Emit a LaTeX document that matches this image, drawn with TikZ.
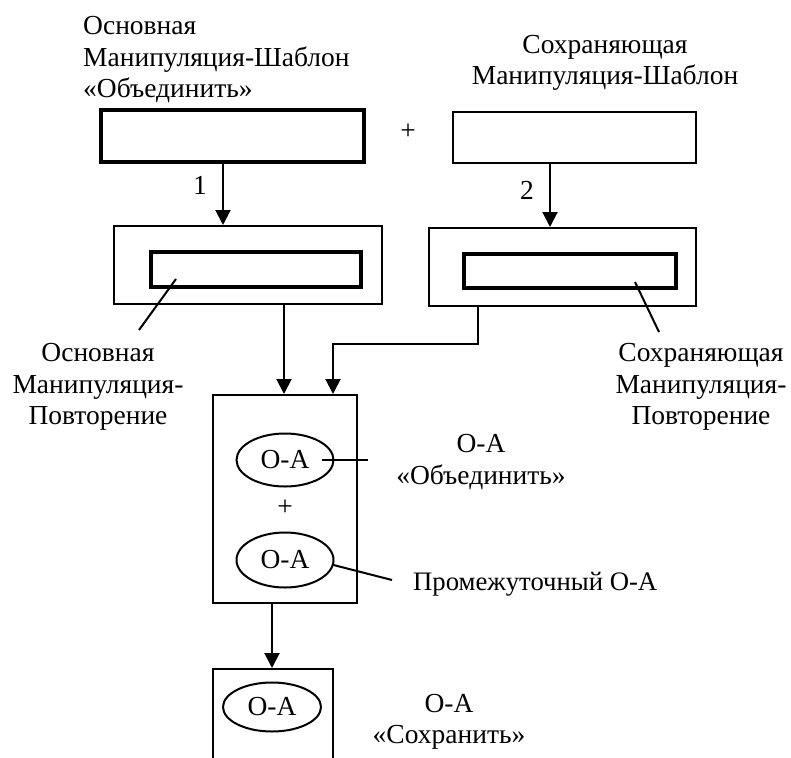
\documentclass[tikz,border=0pt]{standalone}
\usepackage{fontspec}
\setmainfont{Liberation Serif}
\usetikzlibrary{arrows.meta,shapes.geometric}
\begin{document}
\begin{tikzpicture}[x=1pt,y=-1pt,
  every node/.style={font=\fontsize{27.5}{31.5}\selectfont, inner sep=0pt},
  thin box/.style={draw, line width=2pt, minimum width=#1},
  thick box/.style={draw, line width=3.1pt, minimum width=#1},
  oval/.style={draw, ellipse, line width=2pt, minimum width=97pt, minimum height=53pt},
  lbl/.style={align=center},
  con/.style={line width=2pt},
  arr/.style={line width=2pt, -{Triangle[length=15pt,width=15pt]}}]
\clip (0,0) rectangle (791,757);
\fill[white] (0,0) rectangle (791,757);
% top boxes
\node[thick box=263pt, minimum height=52pt] (TL) at (232.5,136) {};
\node[thin box=243pt, minimum height=51pt] (TR) at (574.5,137.5) {};
\node (plus1) at (408,132) {+};
\node[anchor=west, align=left] (TLt) at (83,60) {Основная\\Манипуляция-Шаблон\\«Объединить»};
\node[lbl] (TRt) at (605,63) {Сохраняющая\\Манипуляция-Шаблон};
% middle boxes
\node[thin box=268pt, minimum height=78pt] (ML) at (248,265) {};
\node[thick box=210pt, minimum height=35pt] (MLi) at (256,269.5) {};
\node[thin box=267pt, minimum height=78pt] (MR) at (562.5,267) {};
\node[thick box=212pt, minimum height=34pt] (MRi) at (570,271) {};
\draw[arr] ([xshift=-9.5pt]TL.south) -- ([xshift=-9.5pt]TL.south |- ML.north);
\draw[arr] ([xshift=-24.5pt]TR.south) -- ([xshift=-24.5pt]TR.south |- MR.north);
\node (n1) at (200,185) {1};
\node (n2) at (527,190) {2};
% labels of middle boxes
\node[lbl] (MLt) at (98,387) {Основная\\Манипуляция-\\Повторение};
\node[lbl] (MRt) at (701,387) {Сохраняющая\\Манипуляция-\\Повторение};
\coordinate (MLa) at (176,279);
\coordinate (MLb) at (139,330);
\coordinate (MRa) at (635,282);
\coordinate (MRb) at (659,332);
\draw[con] (MLa) -- (MLb);
\draw[con] (MRa) -- (MRb);
% O-A box
\node[thin box=144pt, minimum height=208pt] (OA) at (285,499) {};
\node[oval] (E1) at (285,460) {О-А};
\node (plus2) at (285,508) {+};
\node[oval, minimum height=55pt] (E2) at (285,560) {О-А};
\draw[arr] ([xshift=36pt]ML.south) -- ([xshift=36pt]ML.south |- OA.north);
\coordinate (bend) at (478,344);
\draw[arr] ([xshift=-84.5pt]MR.south) -- (bend) -- ([xshift=48pt]OA.north |- bend) -- ([xshift=48pt]OA.north);
\node[lbl] (E1t) at (481,462) {О-А\\«Объединить»};
\node[anchor=west, font=\fontsize{26.7}{31.5}\selectfont] (E2t) at (413,584) {Промежуточный О-А};
\coordinate (E1a) at (322,460);
\coordinate (E1b) at (368,460);
\draw[con] (E1a) -- (E1b);
\coordinate (E2b) at (392,580);
\draw[con] (E2.east) ++(-1,5) -- (E2b);
% bottom box
\node[thin box=120pt, minimum height=121pt] (BB) at (273,729.5) {};
\node[oval, minimum width=98pt, minimum height=49pt] (E3) at (272,707) {О-А};
\draw[arr] ([xshift=-13pt]OA.south) -- ([xshift=-13pt]OA.south |- BB.north);
\node[lbl] (E3t) at (449,722) {О-А\\«Сохранить»};
\end{tikzpicture}
\end{document}
